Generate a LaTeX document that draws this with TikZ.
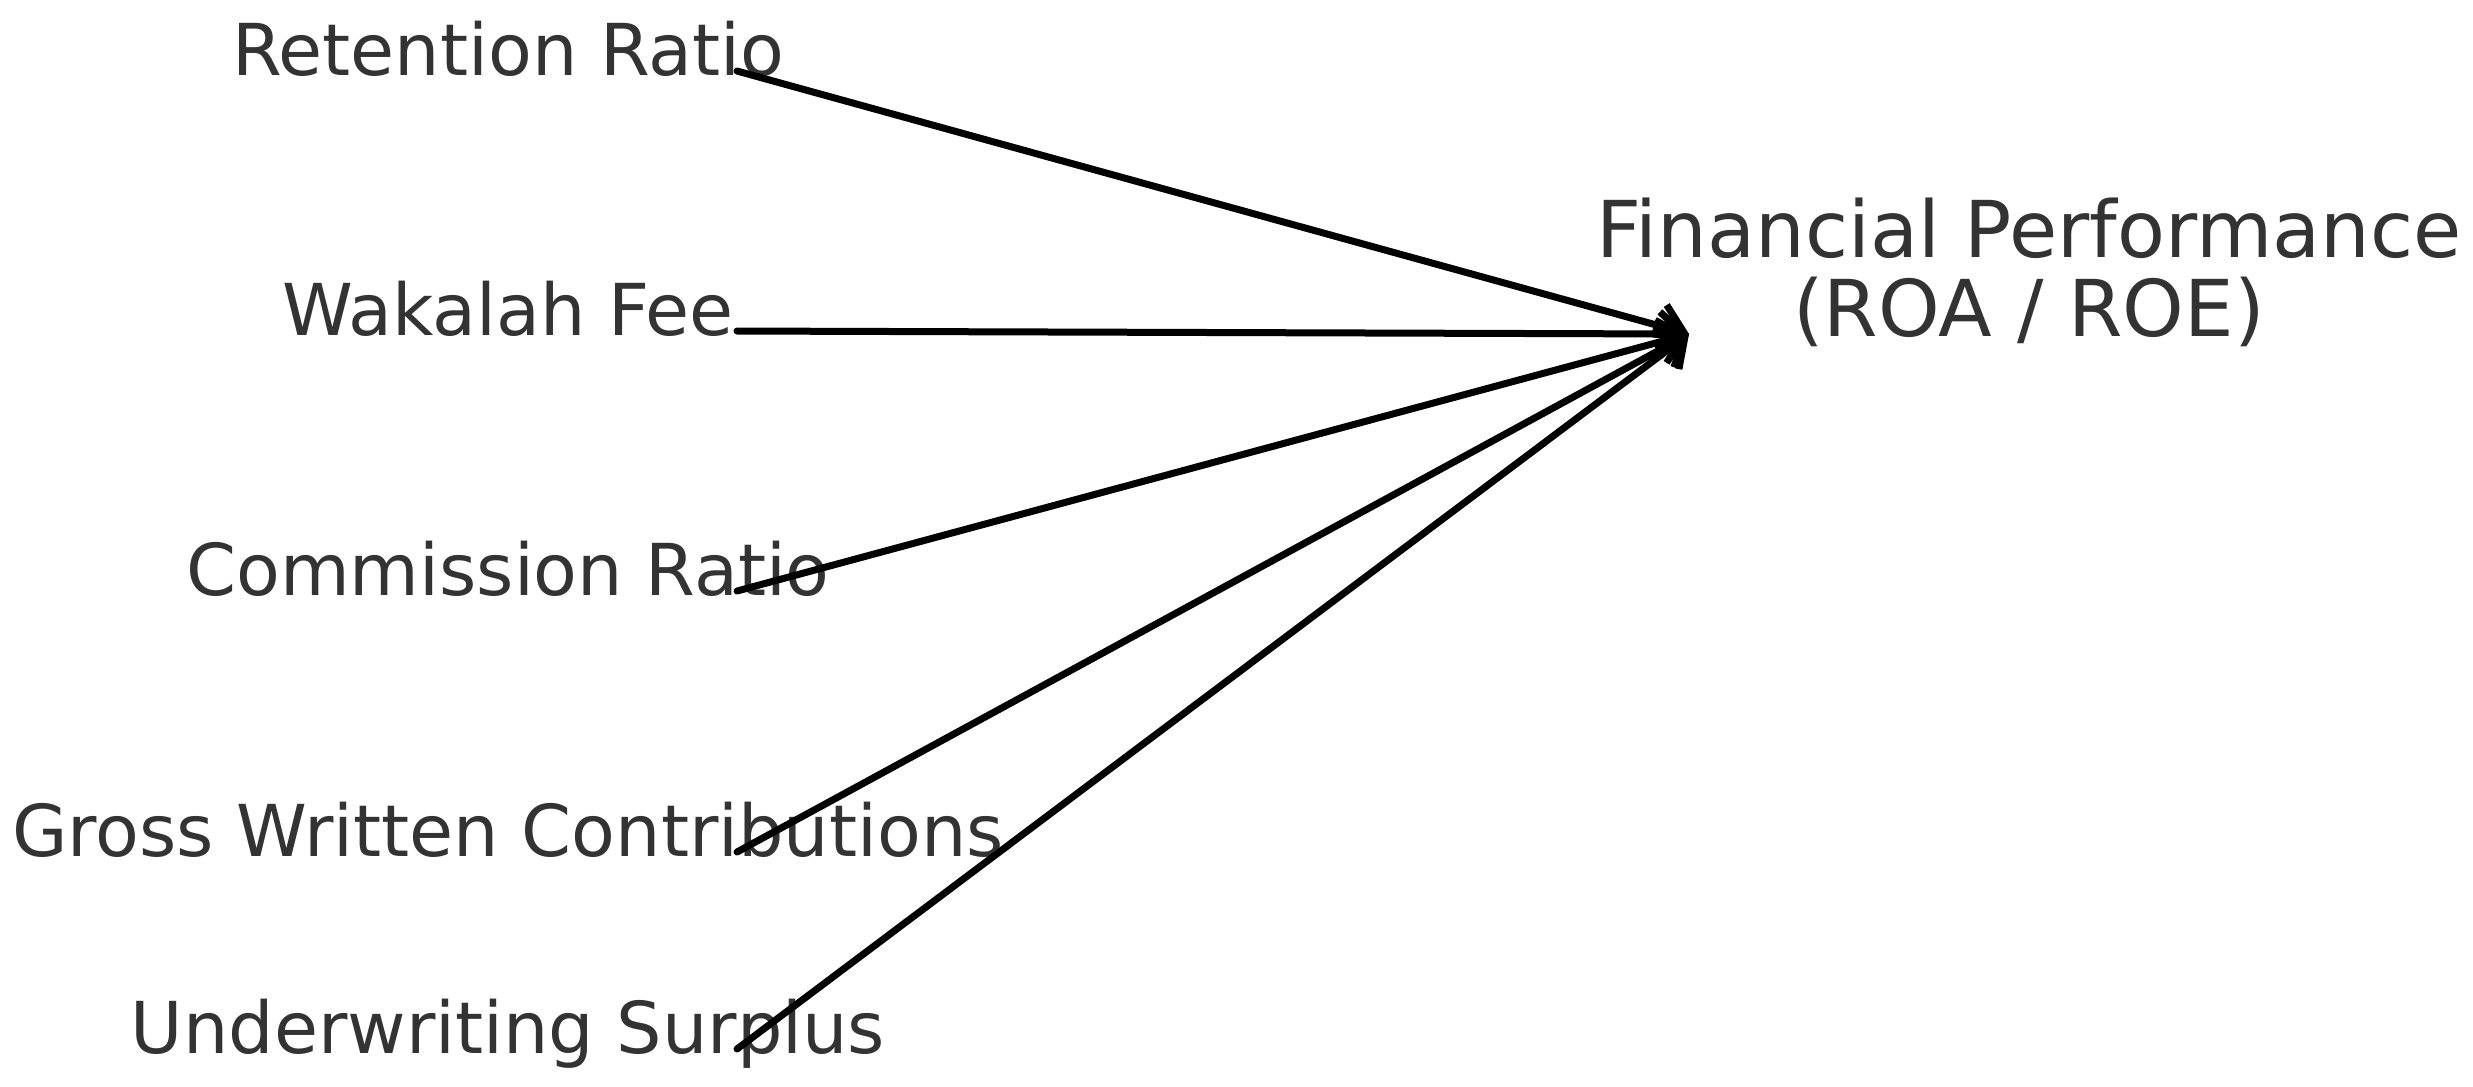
\documentclass[tikz,border=0pt]{standalone}
\usepackage{fontspec}
\setmainfont{DejaVu Sans}
\usetikzlibrary{arrows.meta}
\definecolor{txtgray}{HTML}{333333}
\begin{document}
\begin{tikzpicture}[x=0.25pt,y=-0.25pt,
  lbl/.style={text=txtgray, font=\fontsize{17.9}{19.75}\selectfont, inner sep=0pt, anchor=base},
  conn/.style={line width=1.75pt, line cap=round, -{Straight Barb[length=6pt,width=11pt,line width=1.75pt]}}]
\useasboundingbox (0,0) rectangle (2473,1086);
% labels
\node[lbl] (rr) at (508,75) {Retention Ratio};
\node[lbl] (wf) at (508,335) {Wakalah Fee};
\node[lbl] (cr) at (508,595) {Commission Ratio};
\node[lbl] (gwc) at (508,856) {Gross Written Contributions};
\node[lbl] (us) at (508,1053) {Underwriting Surplus};
\node[lbl, align=center, font=\fontsize{19.6}{19.75}\selectfont] (fp) at (2029,336) {Financial Performance\\(ROA / ROE)};
% connector ends
\coordinate (rrs) at (737,71);
\coordinate (wfs) at (737,331);
\coordinate (crs) at (737,591);
\coordinate (gwcs) at (737,852);
\coordinate (uss) at (737,1049);
\coordinate (tgt) at (1689,334);
\draw[conn] (rrs) -- (tgt);
\draw[conn] (wfs) -- (tgt);
\draw[conn] (crs) -- (tgt);
\draw[conn] (gwcs) -- (tgt);
\draw[conn] (uss) -- (tgt);
\end{tikzpicture}
\end{document}
